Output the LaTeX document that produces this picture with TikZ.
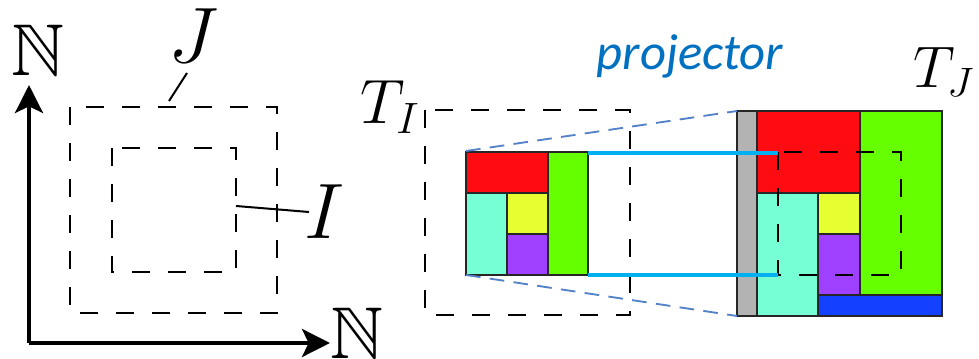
\RequirePackage{fix-cm}
\documentclass[tikz,border=0pt]{standalone}
\usepackage{amssymb}
\usepackage{fontspec}
\newfontfamily\calib{Carlito}
\usetikzlibrary{arrows.meta}
\definecolor{cRed}{RGB}{255,12,18}
\definecolor{cGreen}{RGB}{102,255,0}
\definecolor{cAqua}{RGB}{118,255,212}
\definecolor{cYellow}{RGB}{229,255,48}
\definecolor{cPurple}{RGB}{160,64,255}
\definecolor{cBlue}{RGB}{20,64,255}
\definecolor{cGray}{RGB}{179,179,179}
\definecolor{cLine}{RGB}{0,176,240}
\definecolor{cDash}{RGB}{84,130,200}
\definecolor{cText}{RGB}{0,112,192}
\begin{document}
\begin{tikzpicture}[x=0.75pt,y=-0.75pt,
  dsh/.style={dash pattern=on 13.5pt off 13.5pt, line width=1pt},
  blk/.style={draw=black!85, line width=1.1pt},
  lbl/.style={inner sep=0pt, outer sep=0pt},
  axis/.style={line width=3pt, -{Stealth[length=21pt,width=21pt,inset=5pt]}},
  leader/.style={line width=1.5pt},
  proj/.style={cLine, line width=3pt},
  bdash/.style={cDash, line width=1.4pt, dash pattern=on 11pt off 7pt}]
\useasboundingbox (0,0) rectangle (979,359);

% axes
\coordinate (O) at (29,343);
\coordinate (Ytip) at (29,85);
\coordinate (Xtip) at (330,343);
\draw[axis] (O) -- (Ytip);
\draw[axis] (O) -- (Xtip);
\node[lbl] (NY) at (38,50) {\fontsize{55}{60}\selectfont$\mathbb{N}$};
\node[lbl] (NX) at (357,333) {\fontsize{55}{60}\selectfont$\mathbb{N}$};

% J and I regions
\draw[dsh] (70,107) rectangle (277,313);
\draw[dsh] (112,148) rectangle (236,272);
\node[lbl] (J) at (193,36) {\fontsize{59}{62}\selectfont$J$};
\node[lbl] (I) at (325,212) {\fontsize{59}{62}\selectfont$I$};
\coordinate (Jl1) at (187,73);
\coordinate (Jl2) at (169,101);
\coordinate (Il1) at (236,206);
\coordinate (Il2) at (309,212);
\draw[leader] (Jl1) -- (Jl2);
\draw[leader] (Il1) -- (Il2);

% T_I
\node[lbl] (TI) at (390,107) {\fontsize{47}{50}\selectfont$T_I$};
\draw[dsh] (425,110) rectangle (630,315);
\draw[blk, fill=cRed] (466,152) rectangle (548,193);
\draw[blk, fill=cGreen] (548,152) rectangle (588,275);
\draw[blk, fill=cAqua] (466,193) rectangle (507,275);
\draw[blk, fill=cYellow] (507,193) rectangle (548,234);
\draw[blk, fill=cPurple] (507,234) rectangle (548,275);

% T_J
\node[lbl] (TJ) at (944,72) {\fontsize{44}{48}\selectfont$T_J$};
\draw[blk, fill=cGray] (737,111) rectangle (757,316);
\draw[blk, fill=cRed] (757,111) rectangle (860,193);
\draw[blk, fill=cGreen] (860,111) rectangle (942,295);
\draw[blk, fill=cAqua] (757,193) rectangle (818,316);
\draw[blk, fill=cYellow] (818,193) rectangle (860,234);
\draw[blk, fill=cPurple] (818,234) rectangle (860,295);
\draw[blk, fill=cBlue] (818,295) rectangle (942,316);
\draw[dsh] (778,152) rectangle (901,275);

% connectors
\coordinate (sTL) at (466,151);
\coordinate (sBL) at (466,275);
\coordinate (bTL) at (737,111);
\coordinate (bBL) at (737,316);
\draw[bdash] (sTL) -- (bTL);
\draw[bdash] (sBL) -- (bBL);
\coordinate (sTR) at (588,153);
\coordinate (sBR) at (588,275);
\coordinate (eT) at (778,153);
\coordinate (eB) at (778,275);
\draw[proj] (sTR) -- (eT);
\draw[proj] (sBR) -- (eB);

\node[lbl, anchor=base, text=cText] (P) at (690,70) {\calib\itshape\fontsize{38}{42}\selectfont projector};
\end{tikzpicture}
\end{document}
